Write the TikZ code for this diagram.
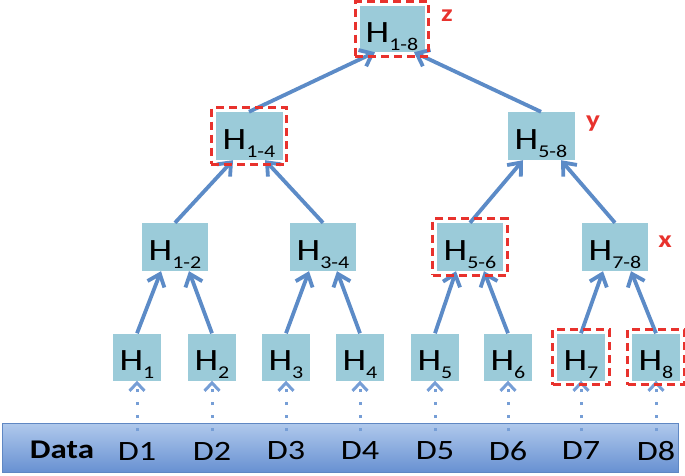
\documentclass[tikz,border=0pt]{standalone}
\usepackage{fontspec}
\setmainfont{Carlito}[FakeStretch=1.22]
\usetikzlibrary{arrows.meta,fit}
\definecolor{boxfill}{RGB}{155,203,217}
\definecolor{arrowc}{RGB}{92,139,199}
\definecolor{dotc}{RGB}{118,158,214}
\definecolor{hlred}{RGB}{232,50,45}
\definecolor{bartop}{RGB}{176,201,236}
\definecolor{barbot}{RGB}{104,145,210}
\definecolor{barline}{RGB}{95,135,195}
\newcommand\hname[1]{H\raisebox{-8pt}{\fontsize{18}{18}\selectfont #1}}
\tikzset{
 hbox/.style={fill=boxfill, inner sep=0pt, text height=27pt, text depth=0pt, font=\fontsize{31}{31}\selectfont},
 leafbox/.style={hbox, minimum width=48pt, minimum height=47pt},
 midbox/.style={hbox, minimum width=66pt, minimum height=48pt},
 hlbox/.style={draw=hlred, line width=3pt, dash pattern=on 8pt off 5pt, inner sep=4pt},
 link/.style={draw=arrowc, line width=3.8pt, -{Straight Barb[length=11pt,width=18pt]}},
 feedarrow/.style={draw=dotc, line width=3pt, dash pattern=on 3pt off 10pt, -{Straight Barb[length=8pt,width=15pt]}},
 tagtext/.style={text=hlred, font=\fontsize{24}{24}\selectfont\bfseries},
 dlab/.style={font=\fontsize{28}{28}\selectfont},
}
\begin{document}
\begin{tikzpicture}[x=1pt,y=-1pt]
\useasboundingbox (0,0) rectangle (685,476);
% data bar
\node[draw=barline, line width=1pt, top color=bartop, bottom color=barbot, minimum width=676pt, minimum height=49pt, inner sep=0pt] (bar) at (340,447.5) {};
\node[font=\fontsize{27}{27}\selectfont\bfseries] (data) at (62,450) {Data};
% leaves
\foreach \i/\x in {1/137,2/212,3/286,4/360,5/435,6/508,7/581,8/656}{
  \node[leafbox] (h\i) at (\x,357) {\hname{\i}};
  \node[dlab] (d\i) at (\x,451) {D\i};
  \coordinate (s\i) at (\x,431);
}
% level 2
\node[midbox] (h12) at (175,247) {\hname{1-2}};
\node[midbox] (h34) at (323,247) {\hname{3-4}};
\node[midbox] (h56) at (470,247) {\hname{5-6}};
\node[midbox] (h78) at (615,247) {\hname{7-8}};
% level 3
\node[midbox, minimum width=67pt] (h14) at (249,136) {\hname{1-4}};
\node[midbox, minimum width=67pt] (h58) at (541,136) {\hname{5-8}};
% top
\node[midbox, minimum width=65pt, minimum height=46pt] (h18) at (392,29) {\hname{1-8}};
% feed arrows
\foreach \i in {1,...,8}{
  \draw[feedarrow] (s\i) -- (h\i.south);
}
% links
\draw[link] (h1.north) -- ([xshift=-14pt]h12.south);
\draw[link] (h2.north) -- ([xshift=14pt]h12.south);
\draw[link] (h3.north) -- ([xshift=-14pt]h34.south);
\draw[link] (h4.north) -- ([xshift=14pt]h34.south);
\draw[link] (h5.north) -- ([xshift=-14pt]h56.south);
\draw[link] (h6.north) -- ([xshift=14pt]h56.south);
\draw[link] (h7.north) -- ([xshift=-12pt]h78.south);
\draw[link] (h8.north) -- ([xshift=16pt]h78.south);
\draw[link] (h12.north) -- ([xshift=-16pt]h14.south);
\draw[link] (h34.north) -- ([xshift=16pt]h14.south);
\draw[link] (h56.north) -- ([xshift=-18pt]h58.south);
\draw[link] (h78.north) -- ([xshift=20pt]h58.south);
\draw[link] (h14.north) -- ([xshift=-17pt]h18.south);
\draw[link] (h58.north) -- ([xshift=22pt]h18.south);
% highlights
\node[hlbox, fit=(h18)] (r18) {};
\node[hlbox, fit=(h14)] (r14) {};
\node[hlbox, fit=(h56)] (r56) {};
\node[hlbox, fit=(h7)] (r7) {};
\node[hlbox, fit=(h8)] (r8) {};
% tags
\node[tagtext] (tz) at (447,16) {z};
\node[tagtext] (ty) at (593,124) {y};
\node[tagtext] (tx) at (665,242) {x};
\end{tikzpicture}
\end{document}
